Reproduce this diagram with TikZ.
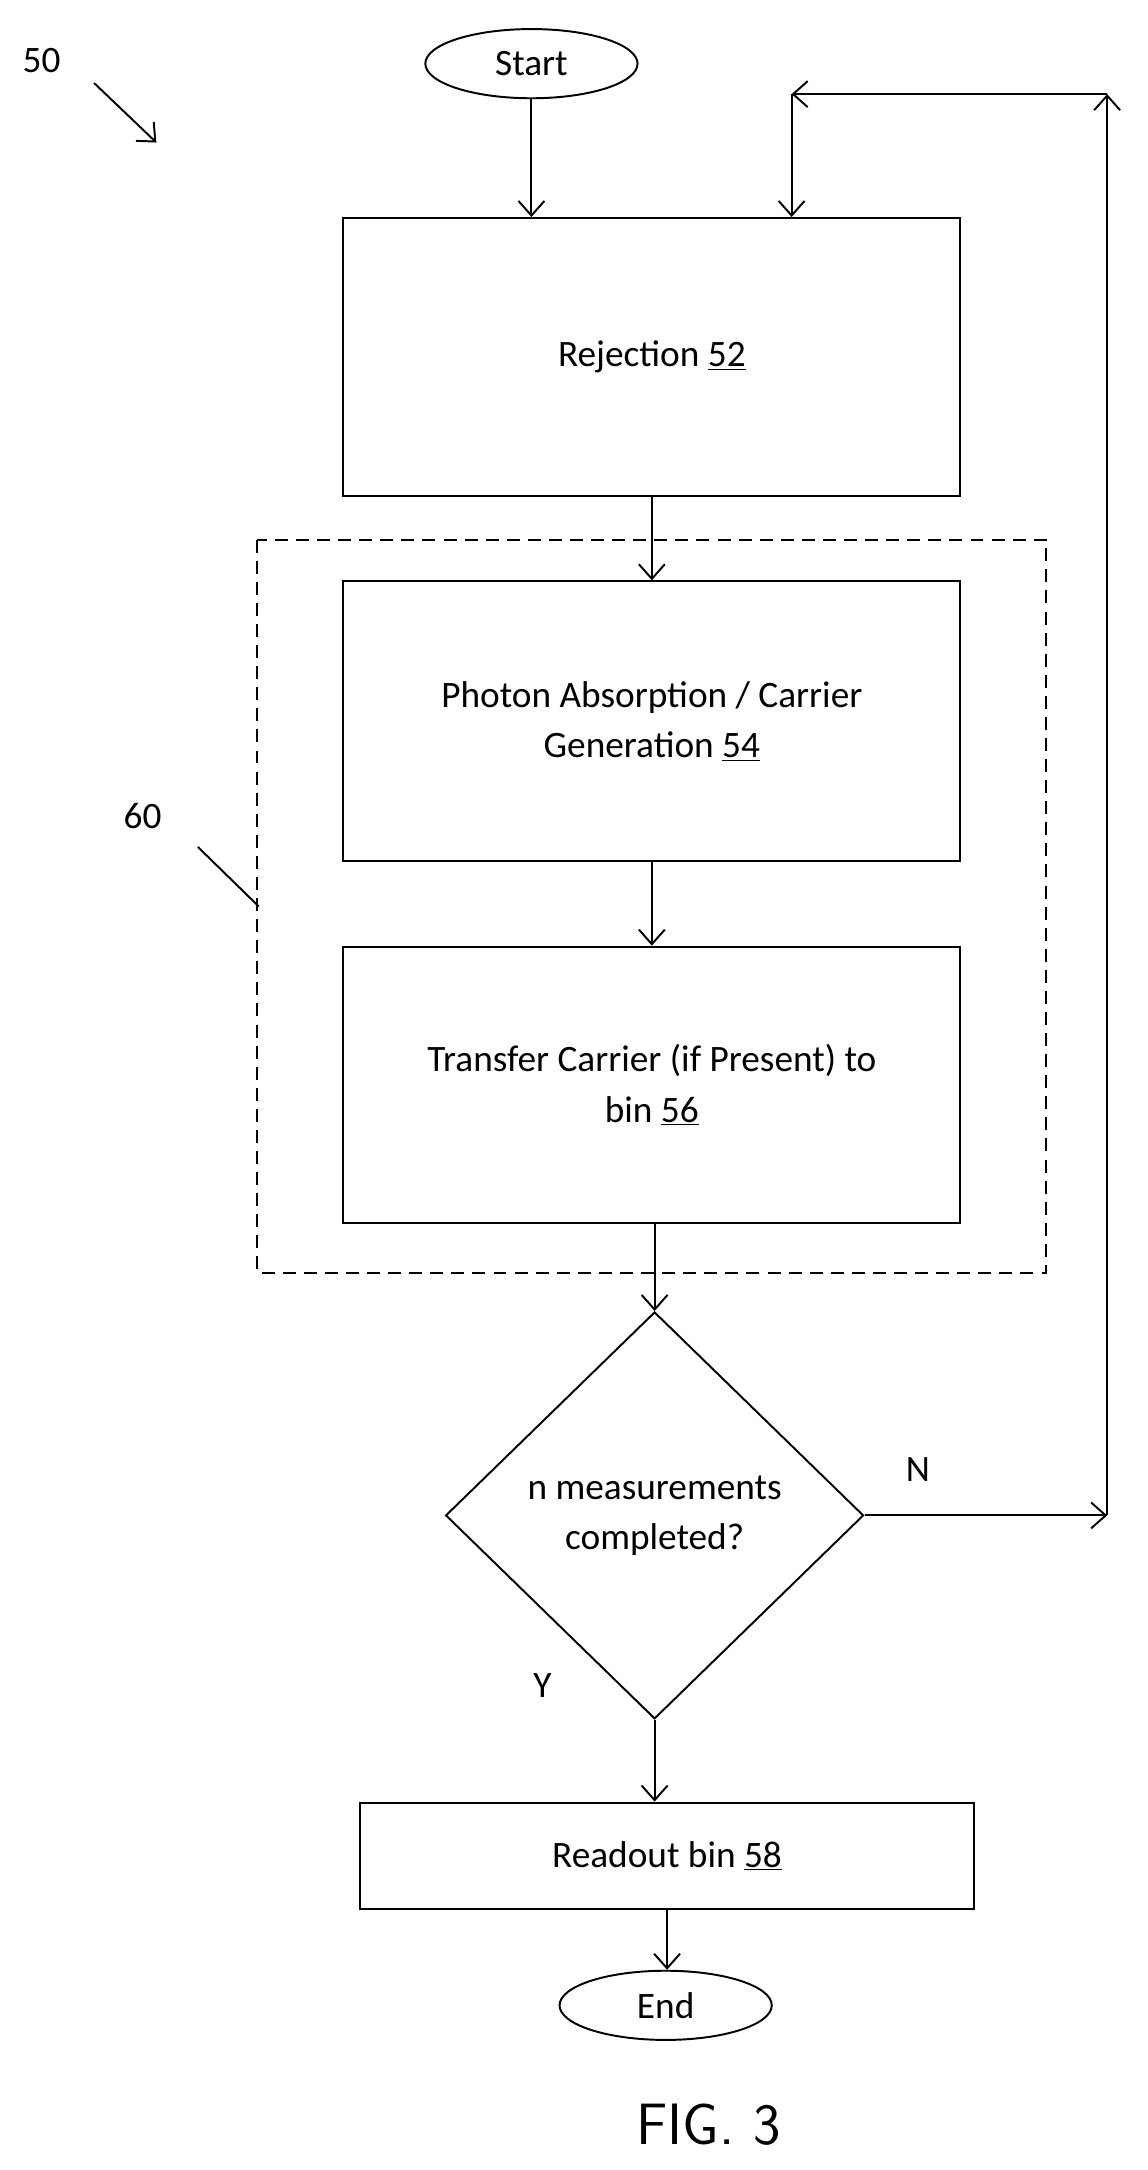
\documentclass[tikz,border=0pt]{standalone}
\usepackage{fontspec}
\setmainfont{Carlito}
\usetikzlibrary{shapes.geometric,arrows.meta}
\tikzset{
  process/.style={draw,line width=1.2pt,minimum width=13.38cm,align=center,font=\fontsize{23}{31}\selectfont},
  term/.style={draw,line width=1.2pt,ellipse,minimum width=4.6cm,minimum height=1.5cm,font=\fontsize{23}{31}\selectfont},
  flow/.style={line width=1.2pt,-{Straight Barb[length=9pt,width=16pt]}},
}
\begin{document}
\begin{tikzpicture}[x=0.03cm,y=-0.03cm]
\useasboundingbox (0,0) rectangle (829,1568);
\path
    (384,46) node [term] (start) {Start}
    (471,258) node [process,minimum height=6.03cm] (reject) {Rejection \underline{52}}
    (471,521) node [process,minimum height=6.06cm] (absorb) {Photon Absorption / Carrier\\Generation \underline{54}}
    (471,784) node [process,minimum height=6cm] (transfer) {Transfer Carrier (if Present) to\\bin \underline{56}}
    (473,1095) node [draw,line width=1.2pt,diamond,aspect=1.03,minimum width=9.06cm,minimum height=8.82cm,inner sep=0pt,
        font=\fontsize{23}{31}\selectfont,align=center] (check) {n measurements\\completed?}
    (482,1341) node [process,minimum width=13.32cm,minimum height=2.31cm] (readout) {Readout bin \underline{58}}
    (481,1449) node [term] (stop) {End};
% dashed group
\draw [line width=1.2pt,dash pattern=on 8pt off 5pt] (186,390) rectangle (756,920);
\node [font=\fontsize{23}{31}\selectfont] (lab60) at (103,590) {60};
\draw [line width=1.2pt] (143,612) -- (187,655);
\node [font=\fontsize{23}{31}\selectfont] (lab50) at (30,44) {50};
\draw [flow] (68,60) -- (113,103);
% main flow
\draw [flow] (start.south) -- (start.south |- reject.north);
\draw [flow] (reject.south) -- (absorb.north);
\draw [flow] (absorb.south) -- (transfer.north);
\draw [flow] (check.north |- transfer.south) -- (check.north);
\draw [flow] (check.south) -- (check.south |- readout.north);
\draw [flow] (readout.south) -- (readout.south |- stop.north);
% loop back
\coordinate (loopbr) at (800,1095);
\coordinate (looptr) at (800,68);
\coordinate (looptl) at (572,68);
\draw [flow] (check.east) -- (loopbr) node [pos=0.22,above=0.6cm,font=\fontsize{23}{31}\selectfont] {N};
\draw [flow] (loopbr) -- (looptr);
\draw [flow] (looptr) -- (looptl);
\draw [flow] (looptl) -- (looptl |- reject.north);
\node [font=\fontsize{23}{31}\selectfont] (yes) at (392,1218) {Y};
\node [font=\sffamily\fontsize{36}{40}\selectfont] (fig) at (512,1535) {FIG. 3};
\end{tikzpicture}
\end{document}
